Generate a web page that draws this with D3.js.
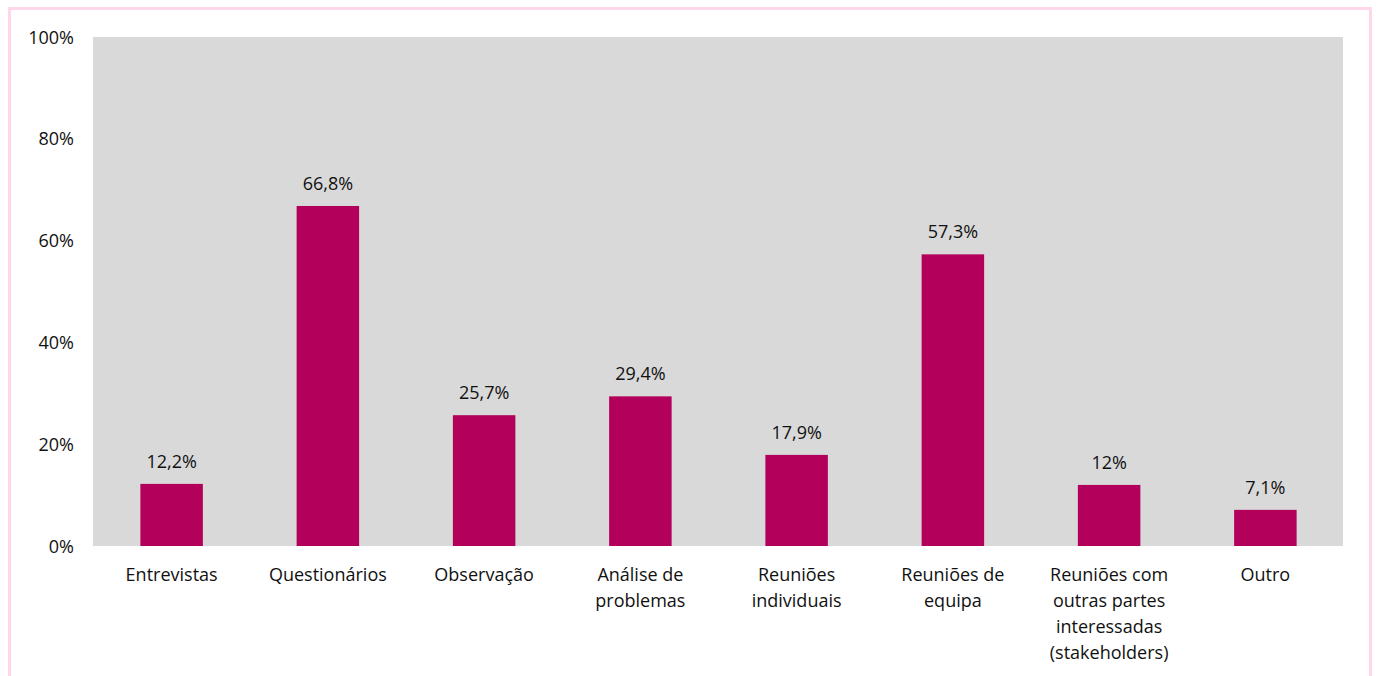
<!DOCTYPE html>
<html><head><meta charset="utf-8">
<script src="https://cdn.jsdelivr.net/npm/d3@7"></script>
<style>body{margin:0;background:#fff;}svg{display:block;}</style>
</head><body>
<script>
const categories = [["Entrevistas"],["Questionários"],["Observação"],["Análise de","problemas"],["Reuniões","individuais"],["Reuniões de","equipa"],["Reuniões com","outras partes","interessadas","(stakeholders)"],["Outro"]];
const values = [12.2, 66.8, 25.7, 29.4, 17.9, 57.3, 12, 7.1];
const valueLabels = ["12,2%","66,8%","25,7%","29,4%","17,9%","57,3%","12%","7,1%"];
const yTicks = [0,20,40,60,80,100];

(function(){
const W=1378,H=676;
const svg=d3.select("body").append("svg").attr("width",W).attr("height",H);
const font="'Open Sans', sans-serif";
const fs=18;
svg.append("rect").attr("x",9.5).attr("y",8.5).attr("width",1361).attr("height",700)
  .attr("fill","none").attr("stroke","#ffd6ea").attr("stroke-width",3);

const pL=93,pR=1343,pT=37,pB=546;
const x=d3.scaleBand().domain(d3.range(values.length)).range([pL,pR]).padding(0);
const y=d3.scaleLinear().domain([0,100]).range([pB,pT]);

svg.append("rect").attr("x",pL).attr("y",pT).attr("width",pR-pL).attr("height",pB-pT).attr("fill","#d9d9d9");

const bw=x.bandwidth()*0.4;
svg.selectAll("rect.bar").data(values).enter().append("rect").attr("class","bar")
  .attr("x",(d,i)=>x(i)+x.bandwidth()/2-bw/2+0.5).attr("width",bw)
  .attr("y",d=>y(d)).attr("height",d=>y(0)-y(d)).attr("fill","#b3005b");

svg.selectAll("text.val").data(values).enter().append("text").attr("class","val")
  .attr("x",(d,i)=>x(i)+x.bandwidth()/2+0.5).attr("y",d=>y(d)-16)
  .attr("text-anchor","middle").attr("font-family",font).attr("font-size",fs).attr("fill","#111")
  .text((d,i)=>valueLabels[i]);

svg.selectAll("text.yt").data(yTicks).enter().append("text").attr("class","yt")
  .attr("x",74).attr("y",d=>y(d)+6.5).attr("text-anchor","end")
  .attr("font-family",font).attr("font-size",fs).attr("fill","#111").text(d=>d+"%");

categories.forEach((lines,i)=>{
  const cx=x(i)+x.bandwidth()/2+0.5;
  const t=svg.append("text").attr("x",cx).attr("y",580.5)
    .attr("text-anchor","middle").attr("font-family",font).attr("font-size",fs).attr("fill","#111");
  lines.forEach((l,j)=>t.append("tspan").attr("x",cx).attr("dy",j?26:0).text(l));
});
})();
</script>
</body></html>
